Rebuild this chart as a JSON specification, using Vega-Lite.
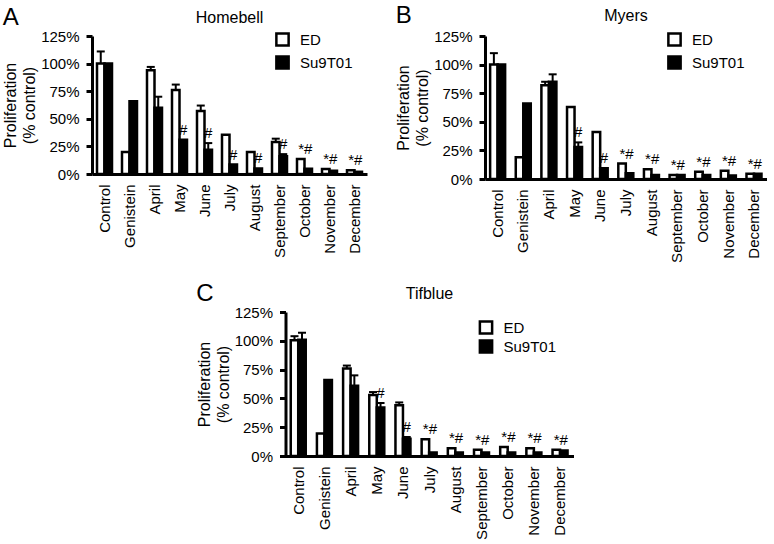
{
  "$schema": "https://vega.github.io/schema/vega-lite/v6.json",
  "background": "white",
  "padding": {"left": 2, "top": 4, "right": 0, "bottom": 0},
  "config": {
    "font": "Liberation Sans",
    "view": {"stroke": null},
    "title": {"fontWeight": "normal", "color": "black", "font": "Liberation Sans"},
    "axis": {"labelColor": "black", "titleColor": "black", "domainColor": "black", "tickColor": "black", "labelFont": "Liberation Sans", "titleFont": "Liberation Sans", "titleFontWeight": "normal"},
    "axisY": {"grid": false, "labelFontSize": 15, "titleFontSize": 16, "titleLineHeight": 19, "titlePadding": 3, "domainWidth": 3, "tickWidth": 3, "tickSize": 6, "labelPadding": 7, "labelOverlap": false},
    "legend": {"labelColor": "black", "labelFont": "Liberation Sans"}
  },
  "resolve": {"scale": {"fill": "independent"}, "legend": {"fill": "independent"}},
  "datasets": {
    "homebell": [
      {"cat": "Control", "series": "ED", "value": 100, "upper": 111, "sig": ""},
      {"cat": "Control", "series": "Su9T01", "value": 100, "upper": 100, "sig": ""},
      {"cat": "Genistein", "series": "ED", "value": 20, "upper": 20, "sig": ""},
      {"cat": "Genistein", "series": "Su9T01", "value": 66, "upper": 66, "sig": ""},
      {"cat": "April", "series": "ED", "value": 94, "upper": 97, "sig": ""},
      {"cat": "April", "series": "Su9T01", "value": 60, "upper": 70, "sig": ""},
      {"cat": "May", "series": "ED", "value": 76, "upper": 81, "sig": ""},
      {"cat": "May", "series": "Su9T01", "value": 31, "upper": 31, "sig": "#"},
      {"cat": "June", "series": "ED", "value": 57, "upper": 62, "sig": ""},
      {"cat": "June", "series": "Su9T01", "value": 22, "upper": 28, "sig": "#"},
      {"cat": "July", "series": "ED", "value": 35.5, "upper": 35.5, "sig": ""},
      {"cat": "July", "series": "Su9T01", "value": 8.6, "upper": 8.6, "sig": "#"},
      {"cat": "August", "series": "ED", "value": 20, "upper": 20, "sig": ""},
      {"cat": "August", "series": "Su9T01", "value": 5, "upper": 5, "sig": "#"},
      {"cat": "September", "series": "ED", "value": 29, "upper": 32, "sig": ""},
      {"cat": "September", "series": "Su9T01", "value": 16, "upper": 18, "sig": "#"},
      {"cat": "October", "series": "ED", "value": 13.7, "upper": 13.7, "sig": ""},
      {"cat": "October", "series": "Su9T01", "value": 4.7, "upper": 4.7, "sig": "*#"},
      {"cat": "November", "series": "ED", "value": 4.5, "upper": 4.5, "sig": ""},
      {"cat": "November", "series": "Su9T01", "value": 3, "upper": 3, "sig": "*#"},
      {"cat": "December", "series": "ED", "value": 3.5, "upper": 3.5, "sig": ""},
      {"cat": "December", "series": "Su9T01", "value": 2, "upper": 2, "sig": "*#"}
    ],
    "myers": [
      {"cat": "Control", "series": "ED", "value": 100, "upper": 110, "sig": ""},
      {"cat": "Control", "series": "Su9T01", "value": 100, "upper": 100, "sig": ""},
      {"cat": "Genistein", "series": "ED", "value": 19, "upper": 19, "sig": ""},
      {"cat": "Genistein", "series": "Su9T01", "value": 66, "upper": 66, "sig": ""},
      {"cat": "April", "series": "ED", "value": 82, "upper": 85, "sig": ""},
      {"cat": "April", "series": "Su9T01", "value": 85, "upper": 91.5, "sig": ""},
      {"cat": "May", "series": "ED", "value": 63, "upper": 63, "sig": ""},
      {"cat": "May", "series": "Su9T01", "value": 28, "upper": 32, "sig": "#"},
      {"cat": "June", "series": "ED", "value": 41, "upper": 41, "sig": ""},
      {"cat": "June", "series": "Su9T01", "value": 9.5, "upper": 9.5, "sig": "#"},
      {"cat": "July", "series": "ED", "value": 13.5, "upper": 13.5, "sig": ""},
      {"cat": "July", "series": "Su9T01", "value": 5, "upper": 5, "sig": "*#"},
      {"cat": "August", "series": "ED", "value": 8.5, "upper": 8.5, "sig": ""},
      {"cat": "August", "series": "Su9T01", "value": 3.5, "upper": 3.5, "sig": "*#"},
      {"cat": "September", "series": "ED", "value": 3.5, "upper": 3.5, "sig": ""},
      {"cat": "September", "series": "Su9T01", "value": 3.5, "upper": 3.5, "sig": "*#"},
      {"cat": "October", "series": "ED", "value": 6.4, "upper": 6.4, "sig": ""},
      {"cat": "October", "series": "Su9T01", "value": 3.5, "upper": 3.5, "sig": "*#"},
      {"cat": "November", "series": "ED", "value": 7.3, "upper": 7.3, "sig": ""},
      {"cat": "November", "series": "Su9T01", "value": 3, "upper": 3, "sig": "*#"},
      {"cat": "December", "series": "ED", "value": 4.5, "upper": 4.5, "sig": ""},
      {"cat": "December", "series": "Su9T01", "value": 4.5, "upper": 4.5, "sig": "*#"}
    ],
    "tifblue": [
      {"cat": "Control", "series": "ED", "value": 100.5, "upper": 104, "sig": ""},
      {"cat": "Control", "series": "Su9T01", "value": 101, "upper": 107, "sig": ""},
      {"cat": "Genistein", "series": "ED", "value": 19.5, "upper": 19.5, "sig": ""},
      {"cat": "Genistein", "series": "Su9T01", "value": 66, "upper": 66, "sig": ""},
      {"cat": "April", "series": "ED", "value": 76, "upper": 78.5, "sig": ""},
      {"cat": "April", "series": "Su9T01", "value": 61, "upper": 70, "sig": ""},
      {"cat": "May", "series": "ED", "value": 53, "upper": 55.5, "sig": ""},
      {"cat": "May", "series": "Su9T01", "value": 42, "upper": 46, "sig": "#"},
      {"cat": "June", "series": "ED", "value": 44, "upper": 46.5, "sig": ""},
      {"cat": "June", "series": "Su9T01", "value": 15, "upper": 16.5, "sig": "#"},
      {"cat": "July", "series": "ED", "value": 14.5, "upper": 14.5, "sig": ""},
      {"cat": "July", "series": "Su9T01", "value": 3, "upper": 3, "sig": "*#"},
      {"cat": "August", "series": "ED", "value": 6.8, "upper": 6.8, "sig": ""},
      {"cat": "August", "series": "Su9T01", "value": 3, "upper": 3, "sig": "*#"},
      {"cat": "September", "series": "ED", "value": 5.5, "upper": 5.5, "sig": ""},
      {"cat": "September", "series": "Su9T01", "value": 3, "upper": 3, "sig": "*#"},
      {"cat": "October", "series": "ED", "value": 7.8, "upper": 7.8, "sig": ""},
      {"cat": "October", "series": "Su9T01", "value": 3, "upper": 3, "sig": "*#"},
      {"cat": "November", "series": "ED", "value": 6.8, "upper": 6.8, "sig": ""},
      {"cat": "November", "series": "Su9T01", "value": 3, "upper": 3, "sig": "*#"},
      {"cat": "December", "series": "ED", "value": 5.5, "upper": 5.5, "sig": ""},
      {"cat": "December", "series": "Su9T01", "value": 4.8, "upper": 4.8, "sig": "*#"}
    ]
  },
  "spacing": 19,
  "center": true,
  "vconcat": [
    {
      "spacing": 28,
      "resolve": {"scale": {"fill": "independent"}, "legend": {"fill": "independent"}},
      "hconcat": [
        {
          "title": {"text": "A", "anchor": "start", "frame": "bounds", "fontSize": 24, "offset": -20},
          "resolve": {"scale": {"fill": "independent"}, "legend": {"fill": "independent"}},
          "hconcat": [
            {
              "width": 275, "height": 138,
              "data": {"name": "homebell"},
              "title": {"text": "Homebell", "fontSize": 16, "offset": 3},
              "encoding": {
                "x": {"field": "cat", "type": "nominal", "sort": ["Control","Genistein","April","May","June","July","August","September","October","November","December"], "scale": {"paddingInner": 0.4, "paddingOuter": 0.2}, "axis": {"title": null, "labelAngle": -90, "ticks": false, "domainWidth": 3, "labelFontSize": 15, "labelPadding": 10}},
                "xOffset": {"field": "series", "type": "nominal", "scale": {"domain": ["ED","Su9T01"], "paddingInner": 0, "paddingOuter": 0}}
              },
              "layer": [
                {"mark": {"type": "bar", "stroke": "black", "strokeWidth": 2.5},
                 "encoding": {
                   "y": {"field": "value", "type": "quantitative", "scale": {"domain": [0, 125], "nice": false}, "axis": {"title": ["Proliferation", "(% control)"], "tickCount": 25, "labelExpr": "datum.value % 25 === 0 ? datum.value + '%' : ''", "tickOpacity": {"condition": {"test": "datum.value % 25 !== 0", "value": 0}, "value": 1}, "labelOverlap": false}},
                   "fill": {"field": "series", "type": "nominal", "scale": {"domain": ["ED","Su9T01"], "range": ["white","black"]}, "legend": {"title": null, "orient": "none", "legendX": 183, "legendY": -4, "padding": 0, "symbolType": "square", "symbolSize": 150, "symbolStrokeColor": "black", "symbolStrokeWidth": 2.5, "labelFontSize": 15, "labelOffset": 10, "rowPadding": 0}}
                 }},
                {"transform": [{"filter": "datum.upper > datum.value"}], "mark": {"type": "rule", "strokeWidth": 2, "color": "black"},
                 "encoding": {"y": {"field": "value", "type": "quantitative"}, "y2": {"field": "upper"}}},
                {"transform": [{"filter": "datum.upper > datum.value"}], "mark": {"type": "tick", "thickness": 2, "size": 8, "color": "black", "opacity": 1},
                 "encoding": {"y": {"field": "upper", "type": "quantitative"}}},
                {"transform": [{"filter": "datum.sig == '#'"}], "mark": {"type": "text", "baseline": "bottom", "dy": -2, "fontSize": 15, "color": "black"},
                 "encoding": {"y": {"field": "upper", "type": "quantitative"}, "text": {"field": "sig"}}},
                {"transform": [{"joinaggregate": [{"op": "max", "field": "upper", "as": "gmax"}], "groupby": ["cat"]}, {"filter": "datum.sig == '*#'"}], "mark": {"type": "text", "baseline": "bottom", "dy": -2, "dx": -3, "fontSize": 15, "color": "black"},
                 "encoding": {"y": {"field": "gmax", "type": "quantitative"}, "text": {"field": "sig"}}}
              ]
            }
          ]
        },
        {
          "title": {"text": "B", "anchor": "start", "frame": "bounds", "fontSize": 24, "offset": -20},
          "resolve": {"scale": {"fill": "independent"}, "legend": {"fill": "independent"}},
          "hconcat": [
            {
              "width": 282, "height": 143,
              "data": {"name": "myers"},
              "title": {"text": "Myers", "fontSize": 16, "offset": 5},
              "encoding": {
                "x": {"field": "cat", "type": "nominal", "sort": ["Control","Genistein","April","May","June","July","August","September","October","November","December"], "scale": {"paddingInner": 0.4, "paddingOuter": 0.2}, "axis": {"title": null, "labelAngle": -90, "ticks": false, "domainWidth": 3, "labelFontSize": 15, "labelPadding": 10}},
                "xOffset": {"field": "series", "type": "nominal", "scale": {"domain": ["ED","Su9T01"], "paddingInner": 0, "paddingOuter": 0}}
              },
              "layer": [
                {"mark": {"type": "bar", "stroke": "black", "strokeWidth": 2.5},
                 "encoding": {
                   "y": {"field": "value", "type": "quantitative", "scale": {"domain": [0, 125], "nice": false}, "axis": {"title": ["Proliferation", "(% control)"], "tickCount": 25, "labelExpr": "datum.value % 25 === 0 ? datum.value + '%' : ''", "tickOpacity": {"condition": {"test": "datum.value % 25 !== 0", "value": 0}, "value": 1}, "labelOverlap": false}},
                   "fill": {"field": "series", "type": "nominal", "scale": {"domain": ["ED","Su9T01"], "range": ["white","black"]}, "legend": {"title": null, "orient": "none", "legendX": 182, "legendY": -4, "padding": 0, "symbolType": "square", "symbolSize": 150, "symbolStrokeColor": "black", "symbolStrokeWidth": 2.5, "labelFontSize": 15, "labelOffset": 10, "rowPadding": 0}}
                 }},
                {"transform": [{"filter": "datum.upper > datum.value"}], "mark": {"type": "rule", "strokeWidth": 2, "color": "black"},
                 "encoding": {"y": {"field": "value", "type": "quantitative"}, "y2": {"field": "upper"}}},
                {"transform": [{"filter": "datum.upper > datum.value"}], "mark": {"type": "tick", "thickness": 2, "size": 8, "color": "black", "opacity": 1},
                 "encoding": {"y": {"field": "upper", "type": "quantitative"}}},
                {"transform": [{"filter": "datum.sig == '#'"}], "mark": {"type": "text", "baseline": "bottom", "dy": -2, "fontSize": 15, "color": "black"},
                 "encoding": {"y": {"field": "upper", "type": "quantitative"}, "text": {"field": "sig"}}},
                {"transform": [{"joinaggregate": [{"op": "max", "field": "upper", "as": "gmax"}], "groupby": ["cat"]}, {"filter": "datum.sig == '*#'"}], "mark": {"type": "text", "baseline": "bottom", "dy": -2, "dx": -3, "fontSize": 15, "color": "black"},
                 "encoding": {"y": {"field": "gmax", "type": "quantitative"}, "text": {"field": "sig"}}}
              ]
            }
          ]
        }
      ]
    },
    {
      "title": {"text": "C", "anchor": "start", "frame": "bounds", "fontSize": 24, "offset": -20},
      "resolve": {"scale": {"fill": "independent"}, "legend": {"fill": "independent"}},
      "hconcat": [
        {
          "width": 288, "height": 144,
          "data": {"name": "tifblue"},
          "title": {"text": "Tifblue", "fontSize": 16, "offset": 3},
          "encoding": {
            "x": {"field": "cat", "type": "nominal", "sort": ["Control","Genistein","April","May","June","July","August","September","October","November","December"], "scale": {"paddingInner": 0.4, "paddingOuter": 0.2}, "axis": {"title": null, "labelAngle": -90, "ticks": false, "domainWidth": 3, "labelFontSize": 15, "labelPadding": 10}},
            "xOffset": {"field": "series", "type": "nominal", "scale": {"domain": ["ED","Su9T01"], "paddingInner": 0, "paddingOuter": 0}}
          },
          "layer": [
            {"mark": {"type": "bar", "stroke": "black", "strokeWidth": 2.5},
             "encoding": {
               "y": {"field": "value", "type": "quantitative", "scale": {"domain": [0, 125], "nice": false}, "axis": {"title": ["Proliferation", "(% control)"], "tickCount": 25, "labelExpr": "datum.value % 25 === 0 ? datum.value + '%' : ''", "tickOpacity": {"condition": {"test": "datum.value % 25 !== 0", "value": 0}, "value": 1}, "labelOverlap": false}},
               "fill": {"field": "series", "type": "nominal", "scale": {"domain": ["ED","Su9T01"], "range": ["white","black"]}, "legend": {"title": null, "orient": "none", "legendX": 193, "legendY": 8, "padding": 0, "symbolType": "square", "symbolSize": 150, "symbolStrokeColor": "black", "symbolStrokeWidth": 2.5, "labelFontSize": 15, "labelOffset": 10, "rowPadding": -8}}
             }},
            {"transform": [{"filter": "datum.upper > datum.value"}], "mark": {"type": "rule", "strokeWidth": 2, "color": "black"},
             "encoding": {"y": {"field": "value", "type": "quantitative"}, "y2": {"field": "upper"}}},
            {"transform": [{"filter": "datum.upper > datum.value"}], "mark": {"type": "tick", "thickness": 2, "size": 8, "color": "black", "opacity": 1},
             "encoding": {"y": {"field": "upper", "type": "quantitative"}}},
            {"transform": [{"filter": "datum.sig == '#'"}], "mark": {"type": "text", "baseline": "bottom", "dy": -2, "fontSize": 15, "color": "black"},
             "encoding": {"y": {"field": "upper", "type": "quantitative"}, "text": {"field": "sig"}}},
            {"transform": [{"joinaggregate": [{"op": "max", "field": "upper", "as": "gmax"}], "groupby": ["cat"]}, {"filter": "datum.sig == '*#'"}], "mark": {"type": "text", "baseline": "bottom", "dy": -2, "dx": -3, "fontSize": 15, "color": "black"},
             "encoding": {"y": {"field": "gmax", "type": "quantitative"}, "text": {"field": "sig"}}}
          ]
        }
      ]
    }
  ]
}
